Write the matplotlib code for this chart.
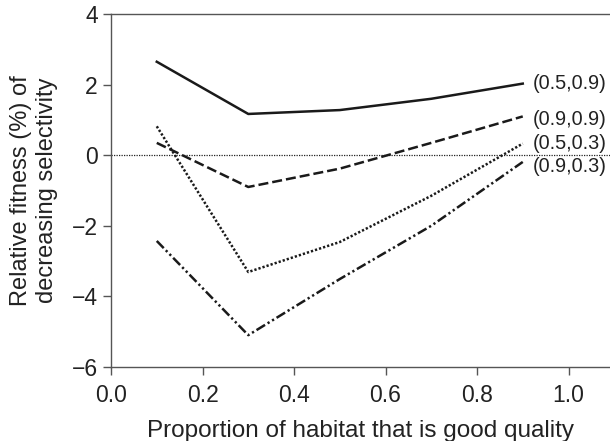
import matplotlib
matplotlib.use("Agg")
import matplotlib.pyplot as plt

x = [0.1, 0.3, 0.5, 0.7, 0.9]
s_05_09 = [2.65, 1.17, 1.28, 1.60, 2.03]
s_09_09 = [0.35, -0.90, -0.38, 0.35, 1.10]
s_05_03 = [0.82, -3.31, -2.46, -1.15, 0.33]
s_09_03 = [-2.43, -5.10, -3.51, -2.00, -0.19]
labels = ["(0.5,0.9)", "(0.9,0.9)", "(0.5,0.3)", "(0.9,0.3)"]
label_y = [2.03, 1.02, 0.34, -0.31]
xticks = [0.0, 0.2, 0.4, 0.6, 0.8, 1.0]
yticks = [-6, -4, -2, 0, 2, 4]

plt.rcParams['font.family'] = ['Liberation Sans', 'DejaVu Sans']

fig = plt.figure(figsize=(6.1, 4.41), dpi=100)
ax = fig.add_axes([0.182, 0.168, 0.818, 0.800])

lc = '#1a1a1a'
ax.axhline(0, color='#222222', lw=0.9, ls=(0, (1, 1)), zorder=1)
ax.plot(x, s_05_09, color=lc, lw=1.8, ls='-')
ax.plot(x, s_09_09, color=lc, lw=1.8, ls=(0, (4.0, 1.6)))
ax.plot(x, s_05_03, color=lc, lw=1.8, ls=(0, (0.9, 0.8)))
ax.plot(x, s_09_03, color=lc, lw=1.8, ls=(0, (4.0, 1.2, 0.9, 1.2, 0.9, 1.2)))

for lab, yy in zip(labels, label_y):
    ax.text(0.922, yy, lab, ha='left', va='center', fontsize=14.3, color='#222222')

ax.set_xlim(0, 1.0907)
ax.set_ylim(-6, 4)
ax.set_xticks(xticks)
ax.set_xticklabels([f"{v:.1f}" for v in xticks])
ax.set_yticks(yticks)
ax.set_yticklabels([str(v).replace('-', '\u2212') for v in yticks])

spc = '#555555'
for side in ['left', 'bottom', 'top']:
    ax.spines[side].set_color(spc)
    ax.spines[side].set_linewidth(1.0)
ax.spines['right'].set_visible(False)
ax.tick_params(axis='both', direction='out', length=5.5, width=1.0, color=spc,
               labelsize=16.5, labelcolor='#222222')
ax.tick_params(axis='x', pad=7)
ax.tick_params(axis='y', pad=4)
ax.tick_params(top=False, right=False)

ax.set_xlabel("Proportion of habitat that is good quality", fontsize=17.5, color='#222222', labelpad=9)
ax.set_ylabel("Relative fitness (%) of\ndecreasing selectivity", fontsize=17, color='#222222', labelpad=10)

fig.savefig("out.png", dpi=100)
